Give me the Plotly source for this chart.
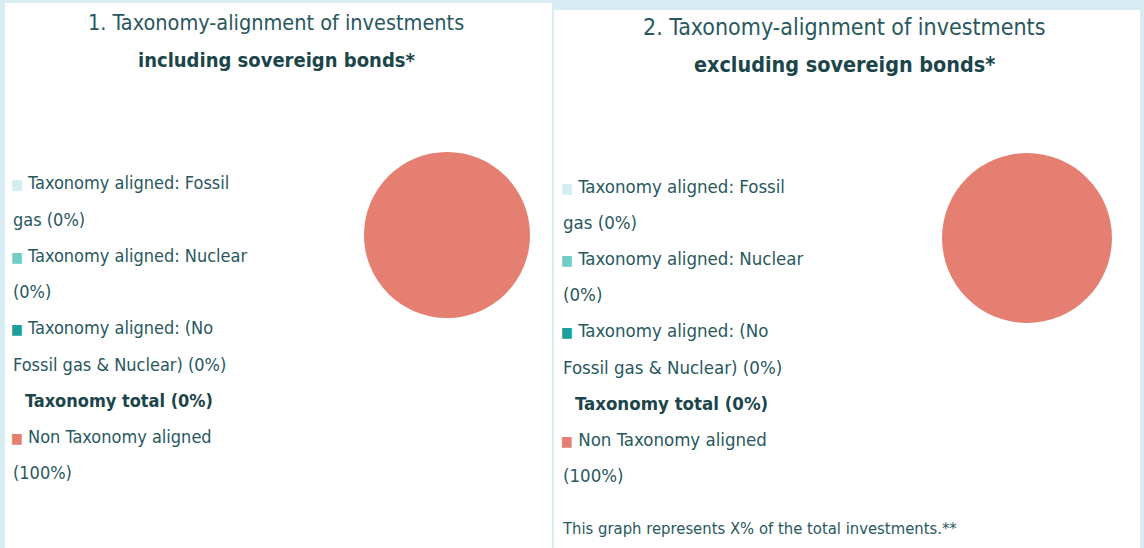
import plotly.graph_objects as go

# ---------------- data ----------------
categories = [
    "Taxonomy aligned: Fossil|gas",
    "Taxonomy aligned: Nuclear|",
    "Taxonomy aligned: (No|Fossil gas & Nuclear)",
    "Non Taxonomy aligned|",
]
values_incl = [0, 0, 0, 100]
values_excl = [0, 0, 0, 100]
slice_colors = ["#d2eeee", "#72cdc8", "#1a9f9b", "#e57f72"]
aligned_count = 3  # first three categories make the taxonomy total

title_1 = "1. Taxonomy-alignment of investments"
subtitle_1 = "including sovereign bonds*"
title_2 = "2. Taxonomy-alignment of investments"
subtitle_2 = "excluding sovereign bonds*"
total_label = "Taxonomy total"
footnote_2 = "This graph represents X% of the total investments.**"

# ---------------- style ----------------
W, H = 1144, 548
FONT = "DejaVu Sans Condensed, Liberation Sans Narrow, sans-serif"
TXT = "#28585e"
BOLD_TXT = "#1b454a"
BG = "#d8edf3"


def px(x):
    return x / W


def py(y):
    return 1 - y / H


fig = go.Figure()

panels = [
    dict(values=values_incl, title=title_1, subtitle=subtitle_1,
         box=(5, 3, 552, 548), title_x=276, title_y=(22, 60), tsize=(21.5, 20),
         pie=(447, 235, 83), leg_x=10, leg_y0=183, lsize=18, foot=None),
    dict(values=values_excl, title=title_2, subtitle=subtitle_2,
         box=(554, 10, 1140, 548), title_x=844, title_y=(27, 65), tsize=(23, 21.4),
         pie=(1027, 238, 85), leg_x=560, leg_y0=186, lsize=18.5, foot=footnote_2),
]

shapes = []
annotations = []
for p in panels:
    x0, y0, x1, y1 = p["box"]
    shapes.append(dict(type="rect", xref="paper", yref="paper",
                       x0=px(x0), x1=px(x1), y0=py(y1), y1=py(y0),
                       fillcolor="white", line=dict(width=0), layer="below"))
    cx, cy, r = p["pie"]
    fig.add_trace(go.Pie(
        labels=[c.replace("|", " ") for c in categories],
        values=p["values"],
        marker=dict(colors=slice_colors, line=dict(width=0)),
        textinfo="none", sort=False, direction="clockwise",
        showlegend=False, hoverinfo="label+percent",
        domain=dict(x=[px(cx - r), px(cx + r)], y=[py(cy + r), py(cy - r)]),
    ))
    annotations.append(dict(text=p["title"], x=px(p["title_x"]), y=py(p["title_y"][0]),
                            xref="paper", yref="paper", showarrow=False,
                            xanchor="center", yanchor="middle",
                            font=dict(family=FONT, size=p["tsize"][0], color=TXT)))
    annotations.append(dict(text="<b>" + p["subtitle"] + "</b>", x=px(p["title_x"]),
                            y=py(p["title_y"][1]), xref="paper", yref="paper",
                            showarrow=False, xanchor="center", yanchor="middle",
                            font=dict(family=FONT, size=p["tsize"][1], color=BOLD_TXT)))

    # legend lines
    total = sum(p["values"])
    lines = []
    for i, (cat, v) in enumerate(zip(categories, p["values"])):
        first, second = cat.split("|")
        pct = f"({round(100 * v / total)}%)"
        second = (second + " " + pct).strip()
        lines.append(("marker", first, slice_colors[i]))
        lines.append(("cont", second, None))
        if i == aligned_count - 1:
            tot = sum(p["values"][:aligned_count])
            lines.append(("total", f"{total_label} ({round(100 * tot / total)}%)", None))
    lx = p["leg_x"]
    ls = p["lsize"]
    for k, (kind, text, col) in enumerate(lines):
        yy = p["leg_y0"] + k * 36.2
        if kind == "marker":
            t = f'<span style="font-size:14px;color:{col}">■</span> {text}'
            xx = lx - 1
            fnt = dict(family=FONT, size=ls, color=TXT)
        elif kind == "cont":
            t = text
            xx = lx + 1
            fnt = dict(family=FONT, size=ls, color=TXT)
        else:
            t = "<b>" + text + "</b>"
            xx = lx + 13
            fnt = dict(family=FONT, size=ls, color=BOLD_TXT)
        annotations.append(dict(text=t, x=px(xx), y=py(yy), xref="paper", yref="paper",
                                showarrow=False, xanchor="left", yanchor="middle",
                                font=fnt))
    if p["foot"]:
        annotations.append(dict(text=p["foot"], x=px(lx), y=py(528), xref="paper",
                                yref="paper", showarrow=False, xanchor="left",
                                yanchor="middle",
                                font=dict(family=FONT, size=16.5, color=TXT)))

fig.update_layout(
    width=W, height=H,
    margin=dict(l=0, r=0, t=0, b=0),
    paper_bgcolor=BG, plot_bgcolor=BG,
    shapes=shapes, annotations=annotations,
    showlegend=False,
)

fig.write_html("out.html",
               config={"displayModeBar": False},
               post_script="document.body.style.margin='0';document.body.style.overflow='hidden';")
